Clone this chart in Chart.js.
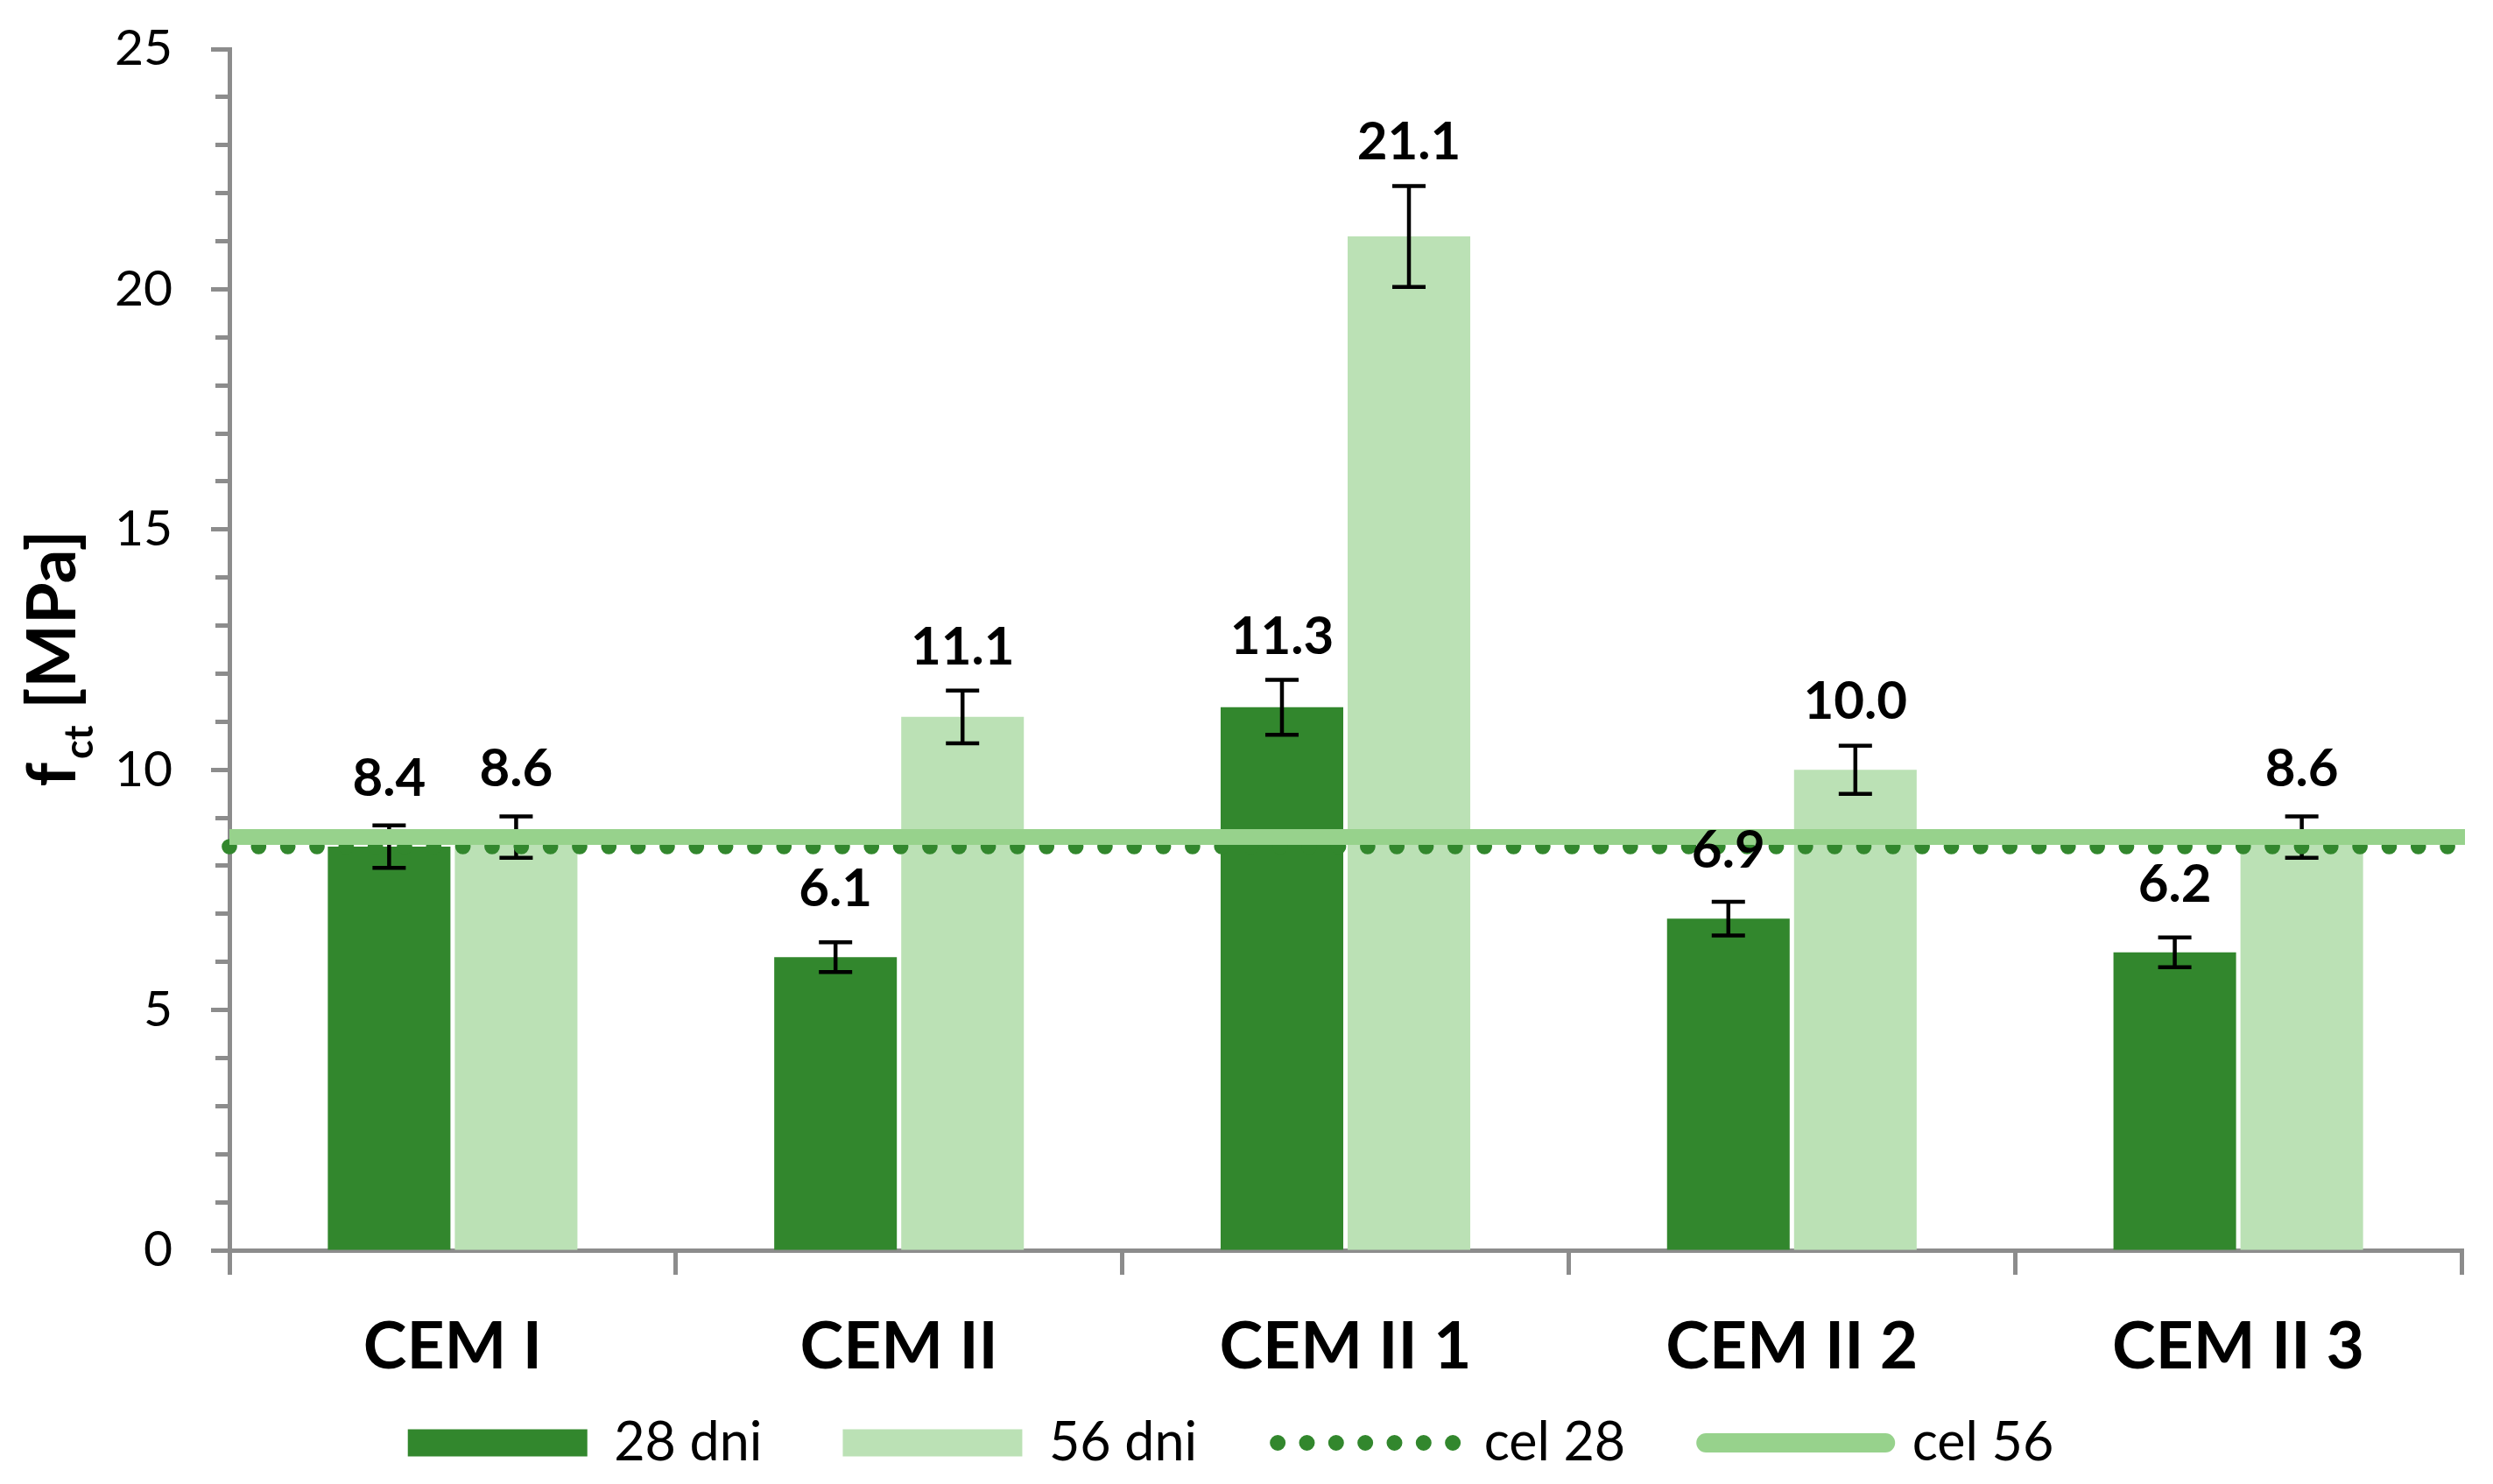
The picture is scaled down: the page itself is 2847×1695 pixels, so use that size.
<!DOCTYPE html>
<html>
<head>
<meta charset="utf-8">
<title>fct</title>
<style>
    html, body { margin: 0; padding: 0; background: #ffffff; }
    #wrap { width: 2847px; height: 1695px; }
</style>
</head>
<body>
<div id="wrap"><canvas id="barChart"></canvas></div>

<script src="https://cdn.jsdelivr.net/npm/chart.js"></script>
<script>
    // chart data
    const categories = ['CEM I', 'CEM II', 'CEM II 1', 'CEM II 2', 'CEM II 3'];
    const values28 = [8.4, 6.1, 11.3, 6.9, 6.2];
    const values56 = [8.6, 11.1, 21.1, 10.0, 8.6];
    const errors28 = [0.44, 0.31, 0.57, 0.35, 0.31];
    const errors56 = [0.43, 0.55, 1.05, 0.50, 0.43];
    const targetLabels = ['cel 28', 'cel 56'];
    const targetValues = [8.4, 8.6];
    const yTicks = [0, 5, 10, 15, 20, 25];

    const dark = '#32872D';
    const light = '#BBE1B5';
    const lineLight = '#97D28C';
    const axisGray = '#8C8C8C';

    // dotted dark target, solid light target
    const targetStyles = [
        { color: dark, width: 17.7, legendWidth: 18, dash: [0, 33.33] },
        { color: lineLight, width: 18, legendWidth: 22, dash: [] }
    ];

    // error bars, drawn right after each bar dataset
    const errorBars = {
        id: 'errorBars',
        afterDatasetDraw(chart, args) {
            const errs = [errors28, errors56][args.index];
            if (!errs) return;
            const ctx = chart.ctx;
            const y = chart.scales.y;
            const vals = chart.data.datasets[args.index].data;
            ctx.save();
            ctx.strokeStyle = '#000';
            ctx.lineWidth = 4.5;
            args.meta.data.forEach((bar, i) => {
                const top = y.getPixelForValue(vals[i] + errs[i]);
                const bot = y.getPixelForValue(vals[i] - errs[i]);
                ctx.beginPath();
                ctx.moveTo(bar.x, top);
                ctx.lineTo(bar.x, bot);
                ctx.moveTo(bar.x - 19, top);
                ctx.lineTo(bar.x + 19, top);
                ctx.moveTo(bar.x - 19, bot);
                ctx.lineTo(bar.x + 19, bot);
                ctx.stroke();
            });
            ctx.restore();
        }
    };

    // horizontal target lines over the bars
    const targetLines = {
        id: 'targetLines',
        afterDatasetsDraw(chart) {
            const ctx = chart.ctx;
            const a = chart.chartArea;
            const y = chart.scales.y;
            targetValues.forEach((v, i) => {
                const st = targetStyles[i];
                const py = y.getPixelForValue(v);
                ctx.save();
                ctx.strokeStyle = st.color;
                ctx.lineWidth = st.width;
                ctx.setLineDash(st.dash);
                ctx.lineCap = st.dash.length ? 'round' : 'butt';
                ctx.beginPath();
                ctx.moveTo(a.left, py);
                ctx.lineTo(a.right + 4, py);
                ctx.stroke();
                ctx.restore();
            });
        }
    };

    // value labels above the bars
    const valueLabels = {
        id: 'valueLabels',
        afterDatasetsDraw(chart) {
            const ctx = chart.ctx;
            const y = chart.scales.y;
            ctx.save();
            ctx.font = 'bold 60px Lato';
            ctx.fillStyle = '#000';
            ctx.textAlign = 'center';
            ctx.textBaseline = 'alphabetic';
            [[values28, errors28], [values56, errors56]].forEach(([vals, errs], d) => {
                chart.getDatasetMeta(d).data.forEach((bar, i) => {
                    const errTop = y.getPixelForValue(vals[i] + errs[i]);
                    const base = Math.min(bar.y - 58, errTop - 30);
                    ctx.fillText(vals[i].toFixed(1), bar.x, base);
                });
            });
            ctx.restore();
        }
    };

    // y axis title with subscript
    const yTitle = {
        id: 'yTitle',
        afterDraw(chart) {
            const ctx = chart.ctx;
            const a = chart.chartArea;
            const big = 'bold 77px Lato';
            const small = 'bold 45px Lato';
            ctx.save();
            ctx.fillStyle = '#000';
            ctx.textAlign = 'left';
            ctx.textBaseline = 'alphabetic';
            ctx.font = big;
            const wf = ctx.measureText('f').width + 4;
            const wRest = ctx.measureText(' [MPa]').width;
            ctx.font = small;
            const wSub = ctx.measureText('ct').width;
            const total = wf + wSub + wRest;
            ctx.translate(86, (a.top + a.bottom) / 2 + 10 + total / 2);
            ctx.rotate(-Math.PI / 2);
            ctx.font = big;
            ctx.fillText('f', 0, 0);
            ctx.font = small;
            ctx.fillText('ct', wf, 20);
            ctx.font = big;
            ctx.fillText(' [MPa]', wf + wSub, 0);
            ctx.restore();
        }
    };

    const isMinor = (c) => c.tick && !yTicks.includes(c.tick.value);

    new Chart(document.getElementById('barChart'), {
        type: 'bar',
        data: {
            labels: categories,
            datasets: [
                {
                    label: '28 dni',
                    data: values28,
                    backgroundColor: dark,
                    categoryPercentage: 0.569,
                    barPercentage: 0.9655
                },
                {
                    label: '56 dni',
                    data: values56,
                    backgroundColor: light,
                    categoryPercentage: 0.569,
                    barPercentage: 0.9655
                }
            ]
        },
        options: {
            responsive: true,
            maintainAspectRatio: false,
            animation: false,
            layout: { padding: { top: 56, right: 36, bottom: 6.5, left: 0 } },
            plugins: {
                tooltip: { enabled: false },
                legend: {
                    position: 'bottom',
                    labels: {
                        usePointStyle: true,
                        pointStyleWidth: 205,
                        boxHeight: 31,
                        padding: 92,
                        color: '#000',
                        font: { family: 'Lato', size: 61 },
                        generateLabels: (chart) => {
                            const bars = chart.data.datasets.map((ds, i) => ({
                                text: ds.label,
                                datasetIndex: i,
                                hidden: false,
                                pointStyle: 'rect',
                                fillStyle: ds.backgroundColor,
                                strokeStyle: ds.backgroundColor,
                                lineWidth: 0,
                                fontColor: '#000'
                            }));
                            const lines = targetLabels.map((t, i) => ({
                                text: t,
                                hidden: false,
                                pointStyle: 'line',
                                fillStyle: targetStyles[i].color,
                                strokeStyle: targetStyles[i].color,
                                lineWidth: targetStyles[i].legendWidth,
                                lineDash: targetStyles[i].dash,
                                lineCap: 'round',
                                fontColor: '#000'
                            }));
                            return bars.concat(lines);
                        }
                    }
                }
            },
            scales: {
                x: {
                    type: 'category',
                    offset: true,
                    grid: {
                        offset: true,
                        drawOnChartArea: false,
                        color: axisGray,
                        lineWidth: 5,
                        tickLength: 28,
                        tickWidth: 5
                    },
                    border: { color: axisGray, width: 5 },
                    ticks: {
                        color: '#000',
                        font: { family: 'Lato', size: 75, weight: 'bold' },
                        padding: 38,
                        maxRotation: 0,
                        autoSkip: false
                    },
                    afterFit: (s) => {
                        // the legend sits close under the axis, so keep the box short
                        // and let the category labels hang below it without clipping
                        s.height = 97.5;
                        s._computeLabelArea = () => undefined;
                    }
                },
                y: {
                    min: 0,
                    max: 25,
                    ticks: {
                        stepSize: 1,
                        autoSkip: false,
                        padding: 44,
                        color: '#000',
                        font: { family: 'Lato', size: 57 },
                        callback: (v) => yTicks.includes(v) ? v : ''
                    },
                    grid: {
                        drawOnChartArea: false,
                        color: axisGray,
                        tickLength: 21,
                        tickWidth: 5,
                        tickColor: axisGray,
                        tickBorderDash: (c) => isMinor(c) ? [100, 5] : [],
                        tickBorderDashOffset: (c) => isMinor(c) ? 100 : 0
                    },
                    border: { color: axisGray, width: 5 },
                    afterFit: (s) => {
                        s.width = 262;
                        s.paddingTop = 20;
                    }
                }
            }
        },
        plugins: [errorBars, targetLines, valueLabels, yTitle]
    });
</script>
</body>
</html>
